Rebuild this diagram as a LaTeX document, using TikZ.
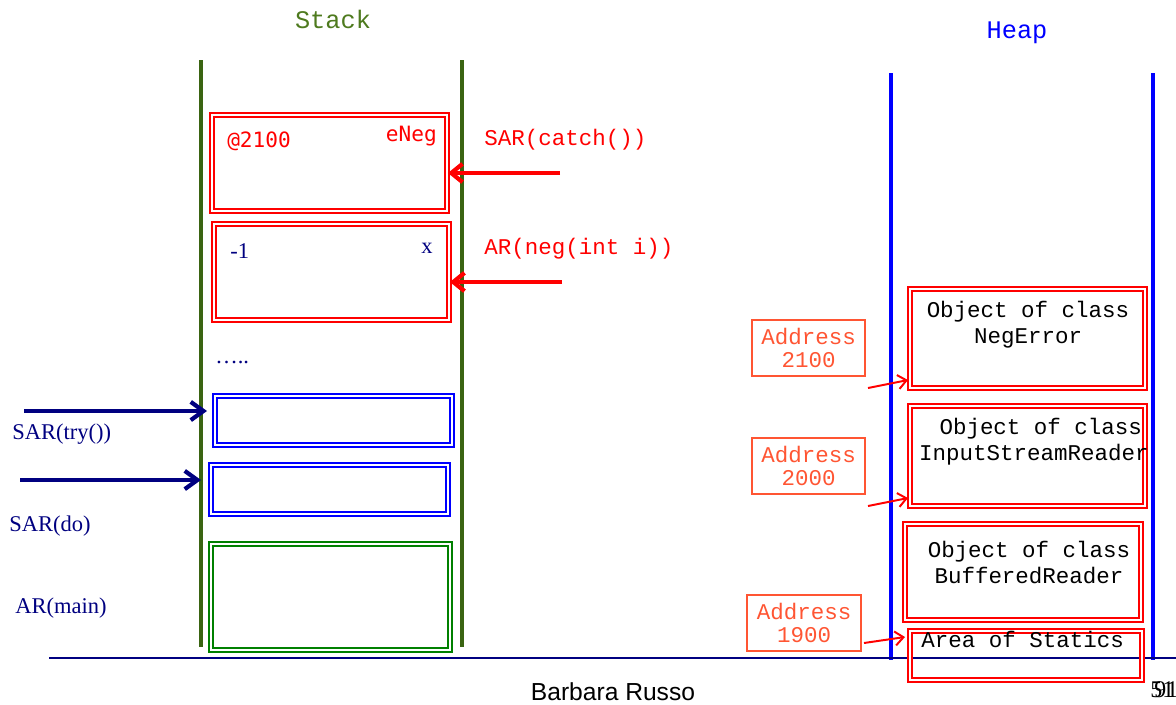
\documentclass[tikz,border=0pt]{standalone}
\usepackage{fontspec}
\setmainfont{Liberation Serif}
\newfontfamily\cour{Liberation Mono}
\newfontfamily\dmono{DejaVu Sans Mono}
\newfontfamily\lsans{Liberation Sans}
\usetikzlibrary{arrows.meta,fit}
\definecolor{stackgreen}{HTML}{4E7A1E}
\definecolor{stackline}{HTML}{3A6412}
\definecolor{navy}{HTML}{000080}
\definecolor{addr}{HTML}{FF5533}
\definecolor{boxgreen}{HTML}{008000}
\tikzset{
  dbox/.style={draw=#1, double=white, line width=1.3pt, double distance=1.1pt, inner sep=0pt},
  abox/.style={draw=addr, line width=0.8pt, inner sep=0pt},
  wall/.style={line width=2.5pt},
  courtxt/.style={font=\cour\fontsize{16}{18.5}\selectfont, inner sep=0pt, align=center},
  addrtxt/.style={font=\cour\fontsize{16}{16.4}\selectfont, text=addr, inner sep=0pt, align=center},
  timestxt/.style={font=\fontsize{16}{18}\selectfont, text=navy, inner sep=0pt},
  redarrow/.style={draw=red, line width=3pt, -{Straight Barb[length=8pt,width=13pt,line width=3pt]}},
  navyarrow/.style={draw=navy, line width=3pt, -{Straight Barb[length=9pt,width=13pt,line width=3pt]}},
  thinarrow/.style={draw=red, line width=1.4pt, -{Straight Barb[length=6pt,width=10pt,line width=1.4pt]}},
}
\begin{document}
\begin{tikzpicture}[x=0.025cm,y=-0.025cm]
\useasboundingbox (0,0) rectangle (1176,704);
% titles
\node[font=\cour\fontsize{18}{20}\selectfont, text=stackgreen] (stack) at (333,19) {Stack};
\node[font=\cour\fontsize{18}{20}\selectfont, text=blue] (heap) at (1017,33) {Heap};
% stack walls
\coordinate (sl1) at (201,60); \coordinate (sl2) at (201,647);
\coordinate (sr1) at (462,60); \coordinate (sr2) at (462,647);
\draw[wall, stackline] (sl1) -- (sl2);
\draw[wall, stackline] (sr1) -- (sr2);
% heap walls
\coordinate (hl1) at (891,73); \coordinate (hl2) at (891,660);
\coordinate (hr1) at (1153,73); \coordinate (hr2) at (1153,660);
\draw[wall, blue] (hl1) -- (hl2);
\draw[wall, blue] (hr1) -- (hr2);
% baseline
\coordinate (bl1) at (49,658); \coordinate (bl2) at (1176,658);
\draw[navy, line width=0.8pt] (bl1) -- (bl2);
% stack frames
\node[fit={(212,115) (447,211)}, dbox=red] (b1) {};
\node[fit={(214,224) (449,320)}, dbox=red] (b2) {};
\node[fit={(215,396) (452,445)}, dbox=blue] (b3) {};
\node[fit={(211,465) (448,514)}, dbox=blue] (b4) {};
\node[fit={(211,544) (450,650)}, dbox=boxgreen] (b5) {};
% frame contents
\node[font=\dmono\fontsize{15}{17}\selectfont, text=red, anchor=west, inner sep=0pt] (at2100) at (227,141) {@2100};
\node[font=\dmono\fontsize{15}{17}\selectfont, text=red, anchor=east, inner sep=0pt] (eneg) at (437,136) {eNeg};
\node[timestxt, anchor=west] (m1) at (230,251) {-1};
\node[timestxt, anchor=east] (xv) at (433,248) {x};
\node[timestxt, anchor=west] (dots) at (215,362) {…..};
% right labels and arrows
\node[courtxt, text=red, anchor=west] (lcatch) at (484,140) {SAR(catch())};
\node[courtxt, text=red, anchor=west] (lneg) at (484,249) {AR(neg(int i))};
\coordinate (c1) at (560,173);
\coordinate (c2) at (562,282);
\draw[redarrow] (c1) -- (c1 -| b1.east);
\draw[redarrow] (c2) -- (c2 -| b2.east);
% left labels and arrows
\node[timestxt, anchor=west] (ltry) at (12,434) {SAR(try())};
\node[timestxt, anchor=west] (ldo) at (9,526) {SAR(do)};
\node[timestxt, anchor=west] (lmain) at (15,608) {AR(main)};
\coordinate (c3) at (24,411);
\coordinate (c4) at (20,480);
\coordinate (t3) at (207,411);
\coordinate (t4) at (201,480);
\draw[navyarrow] (c3) -- (t3);
\draw[navyarrow] (c4) -- (t4);
% heap objects
\node[fit={(910,289) (1145,388)}, dbox=red] (h1) {};
\node[fit={(910,406) (1145,506)}, dbox=red] (h2) {};
\node[fit={(905,524) (1141,620)}, dbox=red] (h3) {};
\node[fit={(910,631) (1142,680)}, dbox=red] (h4) {};
\node[courtxt, anchor=north] (t1) at (1028,301) {Object of class\\NegError};
\node[courtxt, anchor=north] (t2) at (1034,418) {\ Object of class\\InputStreamReader};
\node[courtxt, anchor=north] (t3x) at (1029,541) {Object of class\\BufferedReader};
\node[courtxt, anchor=west] (t4x) at (921,639) {Area of Statics};
% address boxes
\node[fit={(752,320) (865,376)}, abox] (a1) {};
\node[fit={(752,438) (865,494)}, abox] (a2) {};
\node[fit={(747,595) (861,651)}, abox] (a3) {};
\node[addrtxt] (a1t) at (a1.center) {Address\\2100};
\node[addrtxt] (a2t) at (a2.center) {Address\\2000};
\node[addrtxt] (a3t) at (a3.center) {Address\\1900};
\coordinate (d1) at (868,388);
\coordinate (d2) at (868,506);
\coordinate (d3) at (864,643);
\coordinate (e1) at (908,380);
\coordinate (e2) at (908,498);
\coordinate (e3) at (905,637);
\draw[thinarrow] (d1) -- (e1);
\draw[thinarrow] (d2) -- (e2);
\draw[thinarrow] (d3) -- (e3);
% footer
\node[font=\lsans\fontsize{17.5}{20}\selectfont, inner sep=0pt] (author) at (613,692) {Barbara Russo};
\node[font=\fontsize{17}{20}\selectfont, anchor=west, inner sep=0pt] (p51) at (1150,690) {51};
\node[font=\fontsize{17}{20}\selectfont, anchor=west, inner sep=0pt] (p91) at (1154,690) {91};
\end{tikzpicture}
\end{document}
